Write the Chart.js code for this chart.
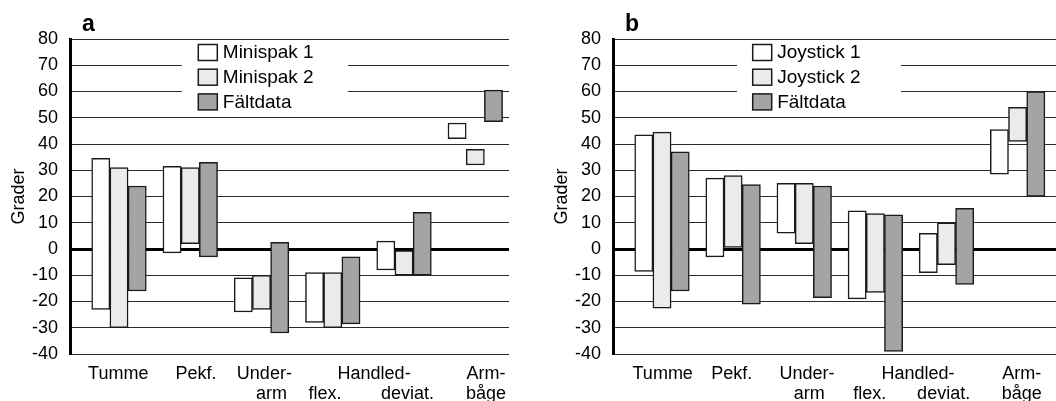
<!DOCTYPE html>
<html lang="sv">
<head>
<meta charset="utf-8">
<title>Rörelseomfång – minispak och joystick</title>
<script src="https://cdn.jsdelivr.net/npm/chart.js@4.4.1/dist/chart.umd.min.js"></script>
<style>
    html, body { margin: 0; padding: 0; background: #fff; overflow: hidden; }
    #wrap { position: relative; width: 1056px; height: 401px; }
    #chartA { position: absolute; left: 0; top: 0; }
    #chartB { position: absolute; left: 543px; top: 0; }
</style>
</head>
<body>
<div id="wrap">
    <canvas id="chartA" width="528" height="401"></canvas>
    <canvas id="chartB" width="513" height="401"></canvas>
</div>
<script>
// kategorier (leder)
const categories = ['Tumme', 'Pekf.', 'Underarm', 'Handled flex.', 'Handled deviat.', 'Armbåge'];

// etiketter under x-axeln (rad 1 / rad 2)
const xTickLabels = ['Tumme', 'Pekf.', ['Under-', ''], ['', 'arm'], ['Handled-', ''], ['', 'flex.'], ['', 'deviat.'], ['Arm-', 'båge']];

// y-axelns skala
const yTicks = [-40, -30, -20, -10, 0, 10, 20, 30, 40, 50, 60, 70, 80];

// a: min / max i grader
const minispak1 = [[-23, 34.5], [-1.5, 31.5], [-24, -11], [-28, -9], [-8, 3], [42, 48]];
const minispak2 = [[-30, 31], [2, 31], [-23, -10], [-30, -9], [-10, 0], [32, 38]];
const faltdataA = [[-16, 24], [-3, 33], [-32, 2.5], [-28.5, -3], [-10, 14], [48.5, 60.5]];

// b: min / max i grader
const joystick1 = [[-8.5, 43.5], [-3, 27], [6, 25], [-19, 14.5], [-9, 6], [28.5, 45.5]];
const joystick2 = [[-22.5, 44.5], [0, 28], [2, 25], [-16.5, 13.5], [-6, 10], [41, 54]];
const faltdataB = [[-16, 37], [-21, 24.5], [-18.5, 24], [-39, 13], [-13.5, 15.5], [20, 60]];

const FONT = "'Liberation Sans', Arial, Helvetica, sans-serif";
const fills = ['#ffffff', '#ebebeb', '#a4a4a4'];

// legend och panelbokstav ritas själv
const panelDecor = {
    id: 'panelDecor',
    beforeDatasetsDraw(chart, args, opts) {
        const { ctx, chartArea } = chart;
        const x0 = chartArea.left;
        ctx.save();
        // vit bakgrund bakom legenden
        ctx.fillStyle = '#fff';
        ctx.fillRect(x0 + opts.boxFrom, chartArea.top + 2, opts.boxTo - opts.boxFrom, 74);
        ctx.font = '19px ' + FONT;
        ctx.textBaseline = 'middle';
        ctx.textAlign = 'left';
        chart.data.datasets.forEach((ds, i) => {
            const y = chartArea.top + 13.5 + i * 24.7;
            const bx = x0 + opts.itemX;
            ctx.fillStyle = ds.backgroundColor;
            ctx.fillRect(bx, y - 8, 19, 16);
            ctx.lineWidth = 1.5;
            ctx.strokeStyle = '#1a1a1a';
            ctx.strokeRect(bx, y - 8, 19, 16);
            ctx.fillStyle = '#000';
            ctx.fillText(ds.label, bx + 24.5, y + 0.5);
        });
        // panelbokstav
        ctx.font = 'bold 23px ' + FONT;
        ctx.textBaseline = 'alphabetic';
        ctx.fillText(opts.letter, x0 + 12, 30.5);
        ctx.restore();
    }
};

function makePanel(canvasId, names, series, cfg) {
    const datasets = series.map((s, k) => ({
        label: names[k],
        data: s.map((pair, i) => ({ x: i, y: pair })),
        backgroundColor: fills[k],
        borderColor: '#1a1a1a',
        borderWidth: 1.5,
        borderSkipped: false,
        barThickness: 18.2,
        grouped: true,
    }));

    return new Chart(document.getElementById(canvasId), {
        type: 'bar',
        data: { datasets },
        plugins: [panelDecor],
        options: {
            responsive: false,
            devicePixelRatio: 1,
            animation: false,
            events: [],
            layout: { padding: { top: 39, right: cfg.padRight, bottom: 0, left: 0 } },
            plugins: {
                legend: { display: false },
                tooltip: { enabled: false },
                panelDecor: cfg.decor,
            },
            scales: {
                x: {
                    type: 'linear',
                    min: cfg.xMin,
                    max: cfg.xMax,
                    bounds: 'data',
                    offset: false,
                    grid: { display: false, drawTicks: false, offset: false },
                    border: { display: false },
                    afterFit(s) { s.height = 47; },
                    afterBuildTicks(s) { s.ticks = cfg.tickPos.map(v => ({ value: v })); },
                    ticks: {
                        autoSkip: false,
                        maxRotation: 0,
                        minRotation: 0,
                        padding: 10,
                        color: '#000',
                        font: { family: FONT, size: 18, lineHeight: 1.1 },
                        callback: (v, i) => xTickLabels[i],
                    },
                },
                y: {
                    min: yTicks[0],
                    max: yTicks[yTicks.length - 1],
                    afterFit(s) { s.width = 70; },
                    afterBuildTicks(s) { s.ticks = yTicks.map(v => ({ value: v })); },
                    grid: {
                        drawTicks: false,
                        color: c => (c.tick && c.tick.value === 0 ? '#000' : '#2a2a2a'),
                        lineWidth: c => (c.tick && c.tick.value === 0 ? 3 : 1),
                    },
                    border: { display: true, width: 3, color: '#000' },
                    ticks: {
                        padding: 12,
                        color: '#000',
                        font: { family: FONT, size: 18 },
                    },
                    title: {
                        display: true,
                        text: 'Grader',
                        color: '#000',
                        font: { family: FONT, size: 18 },
                        padding: { top: 8, bottom: 0 },
                    },
                },
            },
        },
    });
}

// panel a
makePanel('chartA', ['Minispak 1', 'Minispak 2', 'Fältdata'], [minispak1, minispak2, faltdataA], {
    xMin: -0.6876, xMax: 5.473, padRight: 19,
    tickPos: [-0.01, 1.08, 2.04, 2.14, 3.58, 2.89, 4.05, 5.15],
    decor: { letter: 'a', itemX: 128.3, boxFrom: 111.7, boxTo: 278 },
});

// panel b
makePanel('chartB', ['Joystick 1', 'Joystick 2', 'Fältdata'], [joystick1, joystick2, faltdataB], {
    xMin: -0.689, xMax: 5.54, padRight: 0,
    tickPos: [0.01, 0.98, 2.04, 2.07, 3.6, 2.92, 3.96, 5.06],
    decor: { letter: 'b', itemX: 139.7, boxFrom: 124, boxTo: 288 },
});
</script>
</body>
</html>
